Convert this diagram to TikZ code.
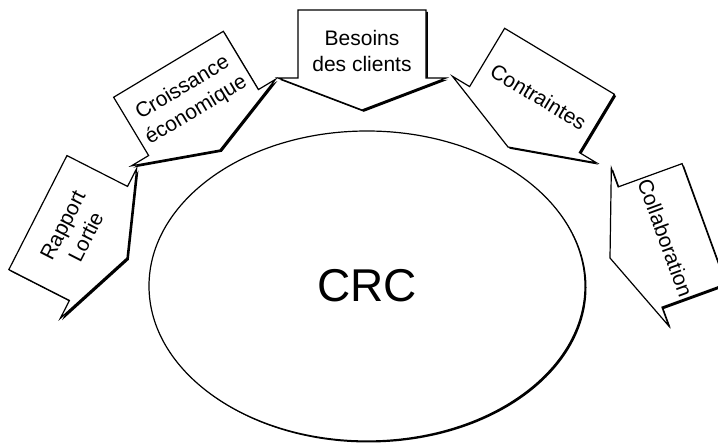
\documentclass[tikz,border=0pt]{standalone}
\usepackage{fontspec}
\setmainfont{Liberation Sans}
\usetikzlibrary{shapes.geometric}
\tikzset{
  outline/.style={fill=white, draw=black, line width=1.2pt, line join=miter},
  shadow/.style={fill=black},
  lbl/.style={transform shape, rotate=90, align=center, inner sep=0pt, font=\fontsize{21}{26}\selectfont}
}
% #1 name, #2 tip x (image px), #3 tip y (image px, downwards), #4 angle below horizontal, #5 text
\newcommand\blockarrow[5]{%
  \begin{scope}[shift={(#2+1.8,444-#3-1.8)},rotate=-#4]
    \fill[shadow] (0,0) -- (-32,84) -- (-32,64) -- (-100,64) -- (-100,-64) -- (-32,-64) -- (-32,-84) -- cycle;
  \end{scope}
  \begin{scope}[shift={(#2,444-#3)},rotate=-#4]
    \filldraw[outline] (0,0) -- (-32,84) -- (-32,64) -- (-100,64) -- (-100,-64) -- (-32,-64) -- (-32,-84) -- cycle;
    \node[lbl] (#1) at (-59,0) {#5};
  \end{scope}}
\begin{document}
\begin{tikzpicture}[x=1pt,y=1pt]
  \useasboundingbox (0,0) rectangle (718,444);
  \clip (0,0) rectangle (718,444);
  % central ellipse with shadow
  \fill[shadow] (368.5,156.5) ellipse [x radius=218, y radius=155];
  \node[ellipse, fill=white, draw=black, line width=1.2pt, minimum width=436pt, minimum height=310pt, inner sep=0pt,
        font=\fontsize{46}{50}\selectfont] (crc) at (367,158) {CRC};
  % surrounding block arrows
  \blockarrow{rapport}{127}{258}{27}{Rapport\\Lortie}
  \blockarrow{croissance}{220}{150}{59}{Croissance\\économique}
  \blockarrow{besoins}{362}{110}{90}{Besoins\\des clients}
  \blockarrow{contraintes}{508}{147}{121}{Contraintes}
  \blockarrow{collaboration}{610}{258}{160}{Collaboration}
\end{tikzpicture}
\end{document}
